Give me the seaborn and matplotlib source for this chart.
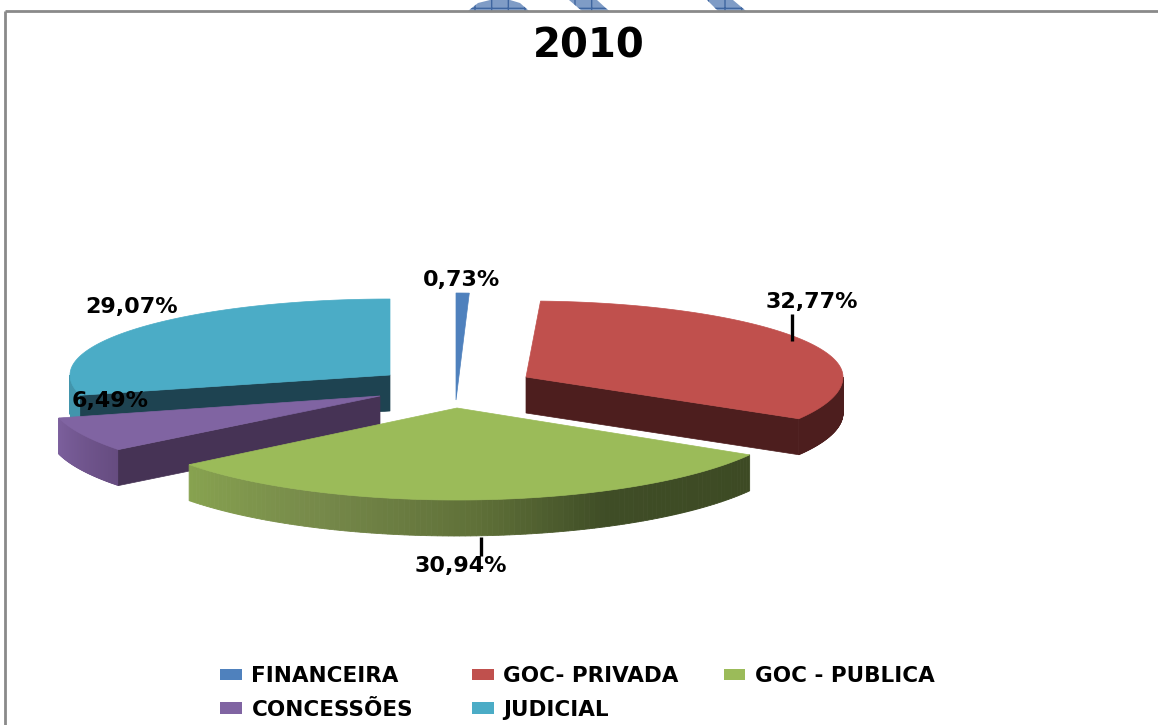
import numpy as np
import matplotlib
matplotlib.use("Agg")
import matplotlib.pyplot as plt
from matplotlib.colors import LinearSegmentedColormap
from matplotlib.patches import Patch, Polygon
import seaborn as sns

# ---- data ----
categories = ["FINANCEIRA", "GOC- PRIVADA", "GOC - PUBLICA", "CONCESSÕES", "JUDICIAL"]
values = [0.73, 32.77, 30.94, 6.49, 29.07]
labels = ["0,73%", "32,77%", "30,94%", "6,49%", "29,07%"]
colors = ["#4F81BD", "#C0504D", "#9BBB59", "#8064A2", "#4BACC6"]

# ---- layout (pixels) ----
W, H = 1158, 725
tips = [(456, 400), (526, 377), (457, 408), (380, 396), (390, 375)]
radius_x = [290, 317, 340, 332, 320]
radius_back = [107, 76, 92, 87, 76]
radius_front = [107, 82, 92, 87, 80]
depth = 36
label_pos = [(462, 280), (812, 302), (461, 566), (110, 401), (132, 307)]
rim_colors = [None,
              [(0, "#4D1E1E"), (1, "#4D1E1E")],
              [(0, "#3D4A24"), (0.3, "#3F4D26"), (0.5, "#5F7038"), (0.75, "#76894A"), (1, "#87A24F")],
              [(0, "#664C80"), (1, "#7B5F9C")],
              [(0, "#4295AC"), (1, "#4295AC")]]
cut_colors = [None, "#4D1E1E", None, "#463355", "#1E4351"]

sns.set_theme(style="white")
plt.rcParams["font.family"] = ["DejaVu Sans"]
palette = sns.color_palette(colors)

fig = plt.figure(figsize=(W / 100, H / 100), dpi=100, facecolor="white")
ax = fig.add_axes([0, 0, 1, 1])
ax.set_xlim(0, W)
ax.set_ylim(H, 0)
ax.axis("off")

# page decoration behind the chart frame
hatch_color = "#3F66A0"
for pts in [[(468, 11), (478, 3), (490, 0), (510, 0), (520, 3), (529, 11)],
            [(569, 0), (597, 0), (609, 11), (582, 11)],
            [(707, 0), (733, 0), (746, 11), (718, 11)]]:
    ax.add_patch(Polygon(pts, closed=True, facecolor="#7F9CC6", edgecolor=hatch_color,
                         hatch="+", lw=0, zorder=1))
ax.plot([5, 5], [725, 11], color="#8A8A8A", lw=2, zorder=2, solid_capstyle="butt")
ax.plot([5, 1158], [11, 11], color="#8A8A8A", lw=2, zorder=2, solid_capstyle="butt")

edges = np.concatenate([[0], np.cumsum(values)]) / np.sum(values) * 360


def outer(i, theta):
    t = np.radians(theta)
    s, c = np.sin(t), np.cos(t)
    b = np.where(c > 0, radius_back[i], radius_front[i])
    return tips[i][0] + radius_x[i] * s, tips[i][1] - b * c


def draw_slice(i, z):
    start, end = edges[i], edges[i + 1]
    th = np.linspace(start, end, 160)
    x, y = outer(i, th)
    tx, ty = tips[i]
    # outer rim: only the part turned towards the viewer
    if rim_colors[i] is not None:
        cmap = LinearSegmentedColormap.from_list("rim", rim_colors[i])
        lo, hi = max(start, 90), min(end, 270)
        rth = np.linspace(lo, hi, 120)
        rx, ry = outer(i, rth)
        for k in range(len(rth) - 1):
            col = cmap(k / (len(rth) - 2))
            ax.fill([rx[k], rx[k + 1], rx[k + 1], rx[k]],
                    [ry[k], ry[k + 1], ry[k + 1] + depth, ry[k] + depth],
                    color=col, lw=0.6, zorder=z)
    # flat cut face
    if cut_colors[i] is not None:
        a = end if i == 1 else start
        ex, ey = outer(i, a)
        ax.fill([tx, ex, ex, tx], [ty, ey, ey + depth, ty + depth],
                color=cut_colors[i], lw=0.5, zorder=z + 0.1)
    ax.fill(np.r_[tx, x], np.r_[ty, y], color=palette[i], lw=0.5, zorder=z + 0.2)


for i, z in zip([4, 3, 1, 0, 2], [3, 4, 5, 6, 7]):
    draw_slice(i, z)

# leader lines and data labels
ax.plot([792, 792], [314, 341], color="black", lw=2.4, zorder=9, solid_capstyle="butt")
ax.plot([481, 481], [537, 556], color="black", lw=2.4, zorder=9, solid_capstyle="butt")
for txt, (px, py) in zip(labels, label_pos):
    ax.text(px, py, txt, ha="center", va="center", fontsize=16, fontweight="bold",
            color="black", zorder=10)

ax.text(589, 46, "2010", ha="center", va="center", fontsize=29, fontweight="bold",
        color="black", zorder=10)

# legend, filled column by column
order = [0, 3, 1, 4, 2]
handles = [Patch(facecolor=palette[i], edgecolor="none") for i in order]
leg = ax.legend(handles, [categories[i] for i in order], ncol=3,
                loc="upper left", bbox_to_anchor=(203 / W, 1 - 649 / H),
                bbox_transform=fig.transFigure, frameon=False,
                prop={"size": 15.5, "weight": "bold"}, labelcolor="black",
                handlelength=1.0, handleheight=0.45, handletextpad=0.45,
                columnspacing=1.9, labelspacing=0.62, borderpad=0.3)
leg._legend_handle_box.mode = "equal"
leg.set_zorder(10)

fig.savefig("out.png", dpi=100, facecolor="white")
